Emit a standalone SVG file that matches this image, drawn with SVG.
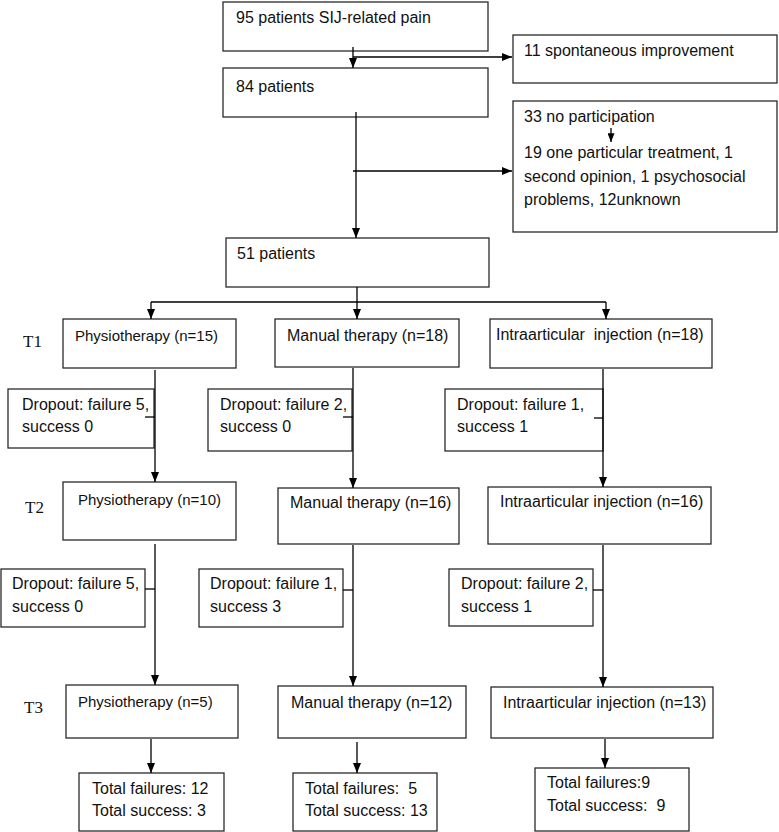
<svg xmlns="http://www.w3.org/2000/svg" width="779" height="832" viewBox="0 0 779 832">
<defs>
<marker id="ah" viewBox="0 0 10 8" refX="10" refY="4" markerWidth="10" markerHeight="8" markerUnits="userSpaceOnUse" orient="auto">
<path d="M0,0 L10,4 L0,8 z" fill="#000"/>
</marker>
<marker id="ahs" viewBox="0 0 10 8" refX="10" refY="4" markerWidth="9" markerHeight="7" markerUnits="userSpaceOnUse" orient="auto">
<path d="M0,0 L10,4 L0,8 z" fill="#000"/>
</marker>
<style>
.box{fill:#fff;stroke:#2a2a2a;stroke-width:1.3}
.t{font-family:"Liberation Sans",Arial,Helvetica,sans-serif;font-size:16px;fill:#111;white-space:pre}
.t15{font-size:15px}
.lbl{font-family:"Liberation Serif","Times New Roman",serif;font-size:17px;fill:#111}
.c{stroke:#000;stroke-width:1.3;fill:none}
.a{marker-end:url(#ah)}
.as{marker-end:url(#ahs)}
</style>
</defs>
<rect width="779" height="832" fill="#fff"/>

<g id="n95"><rect class="box" x="223" y="2" width="265" height="49"/><text class="t" x="236" y="23">95 patients SIJ-related pain</text></g>
<g id="n11"><rect class="box" x="513" y="35" width="264" height="48"/><text class="t" x="524" y="56">11 spontaneous improvement</text></g>
<g id="n84"><rect class="box" x="223" y="68" width="265" height="49"/><text class="t" x="236" y="92">84 patients</text></g>
<g id="n33"><rect class="box" x="513" y="101" width="264" height="131"/>
<text class="t" x="524" y="122">33 no participation</text>
<text class="t" x="524" y="158">19 one particular treatment, 1</text>
<text class="t" x="524" y="182">second opinion, 1 psychosocial</text>
<text class="t" x="524" y="205">problems, 12unknown</text></g>
<g id="n51"><rect class="box" x="226" y="238" width="263" height="49"/><text class="t" x="237" y="259">51 patients</text></g>

<g id="labels">
<text class="lbl" x="23" y="347">T1</text>
<text class="lbl" x="25" y="513">T2</text>
<text class="lbl" x="24" y="713">T3</text>
</g>

<g id="physio1"><rect class="box" x="63" y="319" width="173" height="49"/><text class="t t15" x="75" y="341">Physiotherapy (n=15)</text></g>
<g id="manual1"><rect class="box" x="275" y="319" width="184" height="48"/><text class="t" x="287" y="341">Manual therapy (n=18)</text></g>
<g id="intra1"><rect class="box" x="490" y="319" width="222" height="49"/><text class="t" x="496" y="340">Intraarticular  injection (n=18)</text></g>

<g id="drop1p"><rect class="box" x="8" y="389" width="146" height="59"/><text class="t" x="22" y="410">Dropout: failure 5,</text><text class="t" x="22" y="432">success 0</text></g>
<g id="drop1m"><rect class="box" x="208" y="389" width="144" height="62"/><text class="t" x="220" y="410">Dropout: failure 2,</text><text class="t" x="220" y="432">success 0</text></g>
<g id="drop1i"><rect class="box" x="445" y="389" width="158" height="62"/><text class="t" x="457" y="410">Dropout: failure 1,</text><text class="t" x="457" y="432">success 1</text></g>

<g id="physio2"><rect class="box" x="63" y="482" width="173" height="58"/><text class="t t15" x="78" y="505">Physiotherapy (n=10)</text></g>
<g id="manual2"><rect class="box" x="278" y="488" width="181" height="56"/><text class="t" x="290" y="508">Manual therapy (n=16)</text></g>
<g id="intra2"><rect class="box" x="488" y="487" width="223" height="57"/><text class="t" x="500" y="507">Intraarticular injection (n=16)</text></g>

<g id="drop2p"><rect class="box" x="1" y="569" width="144" height="58"/><text class="t" x="12" y="589">Dropout: failure 5,</text><text class="t" x="12" y="612">success 0</text></g>
<g id="drop2m"><rect class="box" x="199" y="569" width="144" height="58"/><text class="t" x="210" y="589">Dropout: failure 1,</text><text class="t" x="210" y="612">success 3</text></g>
<g id="drop2i"><rect class="box" x="449" y="569" width="144" height="57"/><text class="t" x="461" y="589">Dropout: failure 2,</text><text class="t" x="461" y="612">success 1</text></g>

<g id="physio3"><rect class="box" x="66" y="685" width="172" height="53"/><text class="t t15" x="78" y="707">Physiotherapy (n=5)</text></g>
<g id="manual3"><rect class="box" x="278" y="686" width="188" height="52"/><text class="t" x="291" y="708">Manual therapy (n=12)</text></g>
<g id="intra3"><rect class="box" x="491" y="687" width="222" height="51"/><text class="t" x="503" y="708">Intraarticular injection (n=13)</text></g>

<g id="totp"><rect class="box" x="79" y="773" width="145" height="58"/><text class="t" x="92" y="794">Total failures: 12</text><text class="t" x="92" y="816">Total success: 3</text></g>
<g id="totm"><rect class="box" x="293" y="773" width="144" height="58"/><text class="t" x="305" y="794">Total failures:  5</text><text class="t" x="305" y="816">Total success: 13</text></g>
<g id="toti"><rect class="box" x="535" y="768" width="154" height="63"/><text class="t" x="547" y="788">Total failures:9</text><text class="t" x="547" y="811">Total success:  9</text></g>

<g id="connectors">
<line class="c a" x1="353" y1="47" x2="353" y2="68"/>
<line class="c a" x1="353" y1="57" x2="512" y2="57"/>
<line class="c a" x1="356" y1="112" x2="356" y2="238"/>
<line class="c a" x1="353" y1="171" x2="512" y2="171"/>
<line class="c as" x1="611" y1="128" x2="611" y2="142"/>
<line class="c" x1="357" y1="287" x2="357" y2="302"/>
<line class="c" x1="151" y1="302" x2="606" y2="302"/>
<line class="c a" x1="151" y1="302" x2="151" y2="319"/>
<line class="c a" x1="357" y1="302" x2="357" y2="319"/>
<line class="c a" x1="606" y1="302" x2="606" y2="319"/>
<line class="c a" x1="155" y1="370" x2="155" y2="482"/>
<line class="c" x1="145" y1="417" x2="155" y2="417"/>
<line class="c a" x1="353" y1="368" x2="353" y2="488"/>
<line class="c" x1="343" y1="417" x2="353" y2="417"/>
<line class="c a" x1="603" y1="369" x2="603" y2="487"/>
<line class="c" x1="594" y1="418" x2="603" y2="418"/>
<line class="c a" x1="155" y1="544" x2="155" y2="685"/>
<line class="c" x1="145" y1="589" x2="155" y2="589"/>
<line class="c a" x1="353" y1="545" x2="353" y2="686"/>
<line class="c" x1="343" y1="590" x2="353" y2="590"/>
<line class="c a" x1="603" y1="545" x2="603" y2="687"/>
<line class="c" x1="593" y1="590" x2="603" y2="590"/>
<line class="c a" x1="151" y1="739" x2="151" y2="773"/>
<line class="c a" x1="357" y1="742" x2="357" y2="773"/>
<line class="c a" x1="605" y1="739" x2="605" y2="768"/>
</g>
</svg>
